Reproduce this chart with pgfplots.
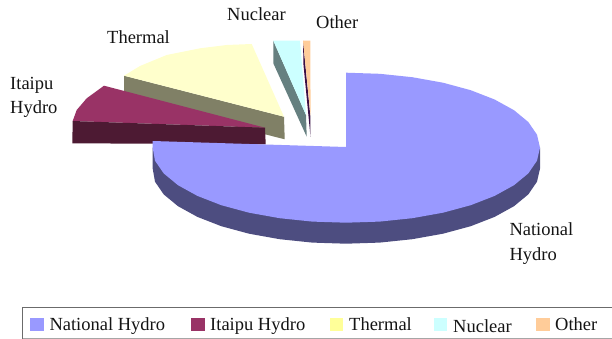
\documentclass[border=0pt]{standalone}
\usepackage{pgfplots}
\pgfplotsset{compat=1.18}
\usepackage{fontspec}
\setmainfont{Liberation Serif}
\definecolor{natTop}{HTML}{9999FF}
\definecolor{natSide}{HTML}{4D4D80}
\definecolor{itaTop}{HTML}{993366}
\definecolor{itaSide}{HTML}{4D1A33}
\definecolor{theTop}{HTML}{FFFFCC}
\definecolor{theSide}{HTML}{808066}
\definecolor{theKey}{HTML}{FFFF99}
\definecolor{nucTop}{HTML}{CCFFFF}
\definecolor{nucSide}{HTML}{668080}
\definecolor{othTop}{HTML}{FFCC99}
\definecolor{othSide}{HTML}{3A1045}
\tikzset{lab/.style={font=\fontsize{18.5bp}{20bp}\selectfont, anchor=base west, inner sep=0pt, text=black!92}}
\begin{document}
\begin{tikzpicture}
\begin{axis}[
  scale only axis, width=612bp, height=339bp,
  xmin=0, xmax=612, ymin=0, ymax=339, y dir=reverse,
  hide axis, clip=true,
  every axis plot/.append style={no markers, line width=0pt, draw=none},
]
% Full page extent
\path (axis cs:0,0) rectangle (axis cs:612,339);
% Thermal wedge
\addplot[fill=theSide] coordinates {(124,75.7)(284,116.7)(284.7,139.3)(124,98.3)} --cycle;
\addplot[fill=theTop] coordinates {(124,75.7)(140,66)(166.7,55)(200,48.3)(226.7,45)(251.7,44)(284,116.7)} --cycle;
% Nuclear wedge
\addplot[fill=nucSide] coordinates {(273.3,40.7)(306,115)(306.7,136.7)(273.3,63.3)} --cycle;
\addplot[fill=nucTop] coordinates {(273.3,40.7)(300,40.7)(306,115)} --cycle;
% Other wedge
\addplot[fill=othSide] coordinates {(303,40.7)(310.3,116)(310.5,136.7)(303.5,65)} --cycle;
\addplot[fill=othTop] coordinates {(303,40.7)(310.3,40.7)(310.6,116)} --cycle;
% Itaipu wedge
\addplot[fill=itaTop] coordinates {(265,127.7)(104,85.7)(86.7,98.3)(76.7,110)(72.7,121)} --cycle;
\addplot[fill=itaSide] coordinates {(72.7,121)(265,127.7)(265.7,144.3)(72.3,143.3)} --cycle;
% National Hydro wedge: rim, then top face
\addplot[fill=natSide] coordinates {
  (540,147.7)(540,168.7)(537,181.7)(528.3,194.4)(514,206.2)(494.6,216.9)(470.7,226.2)(443,233.7)(412.3,239.2)(379.7,242.6)
  (346,243.7)(312.3,242.6)(279.7,239.2)(249,233.7)(221.3,226.2)(197.4,216.9)(178,206.2)(163.7,194.4)(155,181.7)(152.7,168.7)
  (152.7,147.7)} --cycle;
\addplot[fill=natTop] coordinates {
  (346,147)(346,72.7)(379.7,73.8)(412.3,77.2)(443,82.7)(470.7,90.2)(494.6,99.5)(514,110.2)(528.3,122)(537,134.7)
  (540,147.7)(537,160.7)(528.3,173.4)(514,185.2)(494.6,195.9)(470.7,205.2)(443,212.7)(412.3,218.2)(379.7,221.6)
  (346,222.7)(312.3,221.6)(279.7,218.2)(249,212.7)(221.3,205.2)(197.4,195.9)(178,185.2)(163.7,173.4)(155,160.7)
  (152.7,147.7)(152.7,141)} --cycle;
% Legend frame: heavier on the left and top, lighter along the bottom
\addplot[draw=black!58, line width=1.1bp] coordinates {(22.8,338.5)(22.8,307.8)(612,307.8)};
\addplot[draw=black!35, line width=0.8bp] coordinates {(22.8,338.3)(612,338.3)};
% Legend keys
\addplot[fill=natTop] coordinates {(30,318.3)(44,318.3)(44,331)(30,331)} --cycle;
\addplot[fill=itaTop] coordinates {(191,318.3)(204.7,318.3)(204.7,331)(191,331)} --cycle;
\addplot[fill=theKey] coordinates {(330,318.3)(343,318.3)(343,331)(330,331)} --cycle;
\addplot[fill=nucTop] coordinates {(434,318.3)(447,318.3)(447,331)(434,331)} --cycle;
\addplot[fill=othTop] coordinates {(536,318.3)(550,318.3)(550,331)(536,331)} --cycle;
% Slice labels
\node[lab] at (axis cs:227,20.6) {Nuclear};
\node[lab] at (axis cs:316,28.4) {Other};
\node[lab] at (axis cs:107,43.6) {Thermal};
\node[lab] at (axis cs:10,89.3) {Itaipu};
\node[lab] at (axis cs:10,113) {Hydro};
\node[lab] at (axis cs:509.3,235) {National};
\node[lab] at (axis cs:509.3,260.5) {Hydro};
% Legend entries
\node[lab] at (axis cs:49.3,330.7) {National Hydro};
\node[lab] at (axis cs:210,330.7) {Itaipu Hydro};
\node[lab] at (axis cs:349,330.7) {Thermal};
\node[lab] at (axis cs:453,332) {Nuclear};
\node[lab] at (axis cs:555,330.7) {Other};
\end{axis}
\end{tikzpicture}
\end{document}
